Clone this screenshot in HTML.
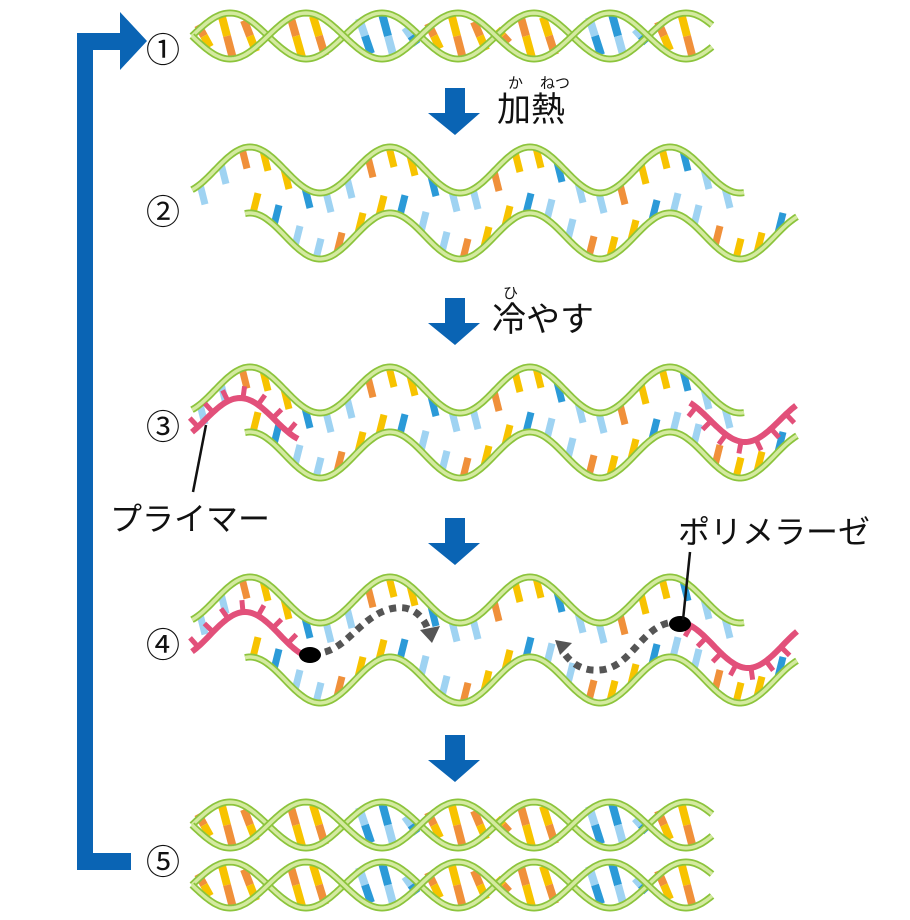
<!DOCTYPE html>
<html><head><meta charset="utf-8">
<style>
html,body{margin:0;padding:0;background:#fff;}
svg{display:block;}
text{font-family:"Liberation Sans","Noto Sans CJK JP",sans-serif;fill:#111;}
</style></head>
<body>
<svg id="s" width="910" height="920" viewBox="0 0 910 920" xmlns="http://www.w3.org/2000/svg">
<g id="g"></g>
<rect x="77" y="33" width="16" height="837" fill="#0a64b4"/>
<rect x="77" y="33" width="46" height="17" fill="#0a64b4"/>
<polygon points="120,12 147,41 120,70" fill="#0a64b4"/>
<rect x="77" y="853" width="54" height="17" fill="#0a64b4"/>
<g fill="#0a64b4">
<polygon points="445,88 465,88 465,113 480,113 455,135 428,113 445,113"/>
<polygon points="445,298 465,298 465,323 480,323 455,345 428,323 445,323"/>
<polygon points="445,518 465,518 465,543 480,543 455,565 428,543 445,543"/>
<polygon points="445,735 465,735 465,760 480,760 455,782 428,760 445,760"/>
</g>
<g font-size="34" text-anchor="middle">
<text x="163" y="62">①</text>
<text x="163" y="224">②</text>
<text x="163" y="439">③</text>
<text x="163" y="657">④</text>
<text x="163" y="874">⑤</text>
</g>
<text x="497" y="121" font-size="34">加熱</text>
<text x="508" y="88" font-size="15">か</text>
<text x="540" y="88" font-size="15">ねつ</text>
<text x="492" y="331" font-size="34">冷やす</text>
<text x="503" y="298" font-size="15">ひ</text>
<text x="110" y="530" font-size="32">プライマー</text>
<text x="678" y="543" font-size="32">ポリメラーゼ</text>
<line x1="206" y1="425" x2="193" y2="492" stroke="#111" stroke-width="2.5"/>
<line x1="690" y1="552" x2="683" y2="620" stroke="#111" stroke-width="2.5"/>
</svg>
<script>
var g=document.getElementById('g');var NS='http://www.w3.org/2000/svg';
function el(t,a){var e=document.createElementNS(NS,t);for(var k in a)e.setAttribute(k,a[k]);g.appendChild(e);return e;}
var C=['#f7c300','#f0903a','#9fd3f2','#2b9ad8'];
function wave(x0,x1,c,amp,ph,per,sign){var p=[];for(var x=x0;x<=x1;x+=2){p.push(x+','+(c-sign*amp*Math.cos(2*Math.PI*(x-ph)/per)).toFixed(1));}return p.join(' ');}
function strand(x0,x1,c,amp,ph,per,sign,dir,seed){
  var i=seed;
  for(var x=x0+8;x<x1-4;x+=21){i++;
    var y=c-sign*amp*Math.cos(2*Math.PI*(x-ph)/per);
    var col=C[(i*7+Math.floor(i/3))%4];
    el('line',{x1:x,y1:y,x2:x+5,y2:y+dir*20,stroke:col,'stroke-width':7});
  }
  var pts=wave(x0,x1,c,amp,ph,per,sign);
  el('polyline',{points:pts,fill:'none',stroke:'#8cc43c','stroke-width':7});
  el('polyline',{points:pts,fill:'none',stroke:'#d4eaa0','stroke-width':3.5});
}
function helix(x0,x1,c,amp,per,seed){
  var i=seed;
  for(var x=x0+12;x<x1-4;x+=23){i++;
    var v=amp*Math.sin(2*Math.PI*(x-x0)/per);
    var t=c-Math.abs(v),b=c+Math.abs(v);if(b-t<12)continue;
    var k=Math.floor((x-x0)/per*2);var pal=(k%3==2)?[2,3]:[0,1];
    var c1=C[pal[i%2]],c2=C[pal[(i+1)%2]];var m=(t+b)/2;
    el('line',{x1:x-6,y1:t,x2:x,y2:m,stroke:c1,'stroke-width':8});
    el('line',{x1:x,y1:m,x2:x+6,y2:b,stroke:c2,'stroke-width':8});
  }
  [1,-1].forEach(function(s){var p=[];for(var x=x0;x<=x1;x+=2)p.push(x+','+(c-s*amp*Math.sin(2*Math.PI*(x-x0)/per)).toFixed(1));
    el('polyline',{points:p.join(' '),fill:'none',stroke:'#8cc43c','stroke-width':7});
    el('polyline',{points:p.join(' '),fill:'none',stroke:'#d4eaa0','stroke-width':3.5});});
}
function primer(x0,x1,c,amp,ph,sign){
  var per=140;
  for(var x=x0+6;x<x1-2;x+=15){
    var a=2*Math.PI*(x-ph)/per;var y=c-sign*amp*Math.cos(a);
    var dy=sign*amp*Math.sin(a)*2*Math.PI/per;var nx=-dy,ny=1;var L=Math.hypot(nx,ny);nx/=L;ny/=L;
    var d=-sign*12;
    el('line',{x1:x,y1:y,x2:x+nx*d,y2:y+ny*d,stroke:'#e2507a','stroke-width':5});
  }
  el('polyline',{points:wave(x0,x1,c,amp,ph,per,sign),fill:'none',stroke:'#e2507a','stroke-width':6});
}
helix(192,712,36,23,152,0);
strand(192,745,170,23,250,140,1,1,1);
strand(245,797,236,23,250,140,1,-1,5);
strand(192,745,390,23,250,140,1,1,1);
strand(245,797,455,23,250,140,1,-1,5);
strand(192,745,600,23,250,140,1,1,1);
strand(245,797,680,23,250,140,1,-1,5);
helix(192,712,825,23,152,0);
helix(192,712,885,23,152,2);
primer(192,298,420,22,240,1);
primer(690,797,420,22,745,-1);
primer(192,305,635,23,245,1);
primer(685,797,645,23,748,-1);
el('path',{d:'M325,652 C350,645 365,612 395,608 C415,605 425,620 428,630',fill:'none',stroke:'#555','stroke-width':7,'stroke-dasharray':'7 6'});
el('polygon',{points:'420,630 440,626 432,643',fill:'#555'});
el('path',{d:'M668,623 C640,630 630,668 600,670 C580,672 568,660 562,650',fill:'none',stroke:'#555','stroke-width':7,'stroke-dasharray':'7 6'});
el('polygon',{points:'555,640 572,643 560,655',fill:'#555'});
el('ellipse',{cx:310,cy:655,rx:11,ry:8,fill:'#000'});
el('ellipse',{cx:680,cy:624,rx:11,ry:8,fill:'#000'});
</script>
</body></html>
